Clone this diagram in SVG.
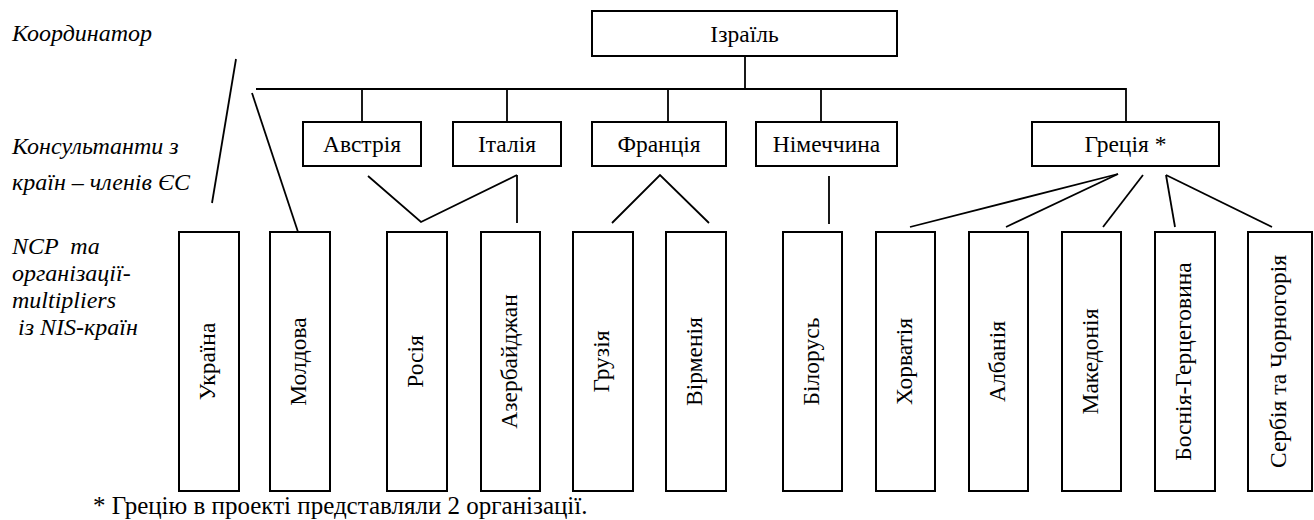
<svg xmlns="http://www.w3.org/2000/svg" width="1314" height="520" viewBox="0 0 1314 520">
<style>
.box{fill:#fff;stroke:#000;stroke-width:2}
.ln{stroke:#000;stroke-width:1.8;fill:none}
.t{font-size:23.5px;fill:#000;text-anchor:middle}
.lbl{font-size:24px;font-style:italic;fill:#000;white-space:pre}
.note{font-size:25px;fill:#000}
</style>
<rect width="1314" height="520" fill="#fff"/>
<g font-family="Liberation Serif, Times New Roman, Tinos, Noto Serif, DejaVu Serif, serif">
<g id="labels">
<text class="lbl" x="12" y="41">Координатор</text>
<text class="lbl" x="12" y="154">Консультанти з</text>
<text class="lbl" x="12" y="190">країн – членів ЄС</text>
<text class="lbl" x="12" y="254">NCP  та</text>
<text class="lbl" x="12" y="281">організації-</text>
<text class="lbl" x="12" y="308">multipliers</text>
<text class="lbl" x="12" y="335"> із NIS-країн</text>
</g>
<g id="connectors">
<line class="ln" x1="236" y1="59" x2="212" y2="203"/>
<line class="ln" x1="252" y1="93" x2="300" y2="238"/>
<line class="ln" x1="745" y1="56" x2="745" y2="89"/>
<polyline class="ln" points="256,89 1126,89 1126,122"/>
<line class="ln" x1="362" y1="89" x2="362" y2="122"/>
<line class="ln" x1="507" y1="89" x2="507" y2="122"/>
<line class="ln" x1="668" y1="89" x2="668" y2="122"/>
<line class="ln" x1="821" y1="89" x2="821" y2="122"/>
<polyline class="ln" points="368,176 421,222 517,175"/>
<line class="ln" x1="517" y1="175" x2="517" y2="223"/>
<polyline class="ln" points="612,223 660,175 709,223"/>
<line class="ln" x1="829" y1="176" x2="829" y2="224"/>
<line class="ln" x1="1118" y1="174" x2="910" y2="227"/>
<line class="ln" x1="1118" y1="174" x2="1006" y2="227"/>
<line class="ln" x1="1143" y1="175" x2="1103" y2="227"/>
<line class="ln" x1="1166" y1="175" x2="1175" y2="227"/>
<line class="ln" x1="1166" y1="175" x2="1272" y2="227"/>
</g>
<g id="n-israel"><rect class="box" x="592" y="11" width="305" height="45"/><text class="t" x="744.5" y="42">Ізраїль</text></g>
<g id="n-austria"><rect class="box" x="303" y="122" width="118" height="44"/><text class="t" x="362" y="152">Австрія</text></g>
<g id="n-italy"><rect class="box" x="453" y="122" width="108" height="44"/><text class="t" x="507" y="152">Італія</text></g>
<g id="n-france"><rect class="box" x="592" y="122" width="134" height="44"/><text class="t" x="659" y="152">Франція</text></g>
<g id="n-germany"><rect class="box" x="756" y="122" width="141" height="44"/><text class="t" x="826.5" y="152">Німеччина</text></g>
<g id="n-greece"><rect class="box" x="1032" y="122" width="187" height="44"/><text class="t" x="1125.5" y="152">Греція *</text></g>
<g id="n-ukraine"><rect class="box" x="179" y="232" width="60" height="259"/><text class="t" transform="translate(215,361.5) rotate(-90)">Україна</text></g>
<g id="n-moldova"><rect class="box" x="270" y="232" width="60" height="259"/><text class="t" transform="translate(306,361.5) rotate(-90)">Молдова</text></g>
<g id="n-russia"><rect class="box" x="387" y="232" width="60" height="259"/><text class="t" transform="translate(423,361.5) rotate(-90)">Росія</text></g>
<g id="n-azerbaijan"><rect class="box" x="481" y="232" width="59" height="259"/><text class="t" transform="translate(516.5,361.5) rotate(-90)">Азербайджан</text></g>
<g id="n-georgia"><rect class="box" x="573" y="232" width="60" height="259"/><text class="t" transform="translate(609,361.5) rotate(-90)">Грузія</text></g>
<g id="n-armenia"><rect class="box" x="666" y="232" width="60" height="259"/><text class="t" transform="translate(702,361.5) rotate(-90)">Вірменія</text></g>
<g id="n-belarus"><rect class="box" x="783" y="232" width="59" height="259"/><text class="t" transform="translate(818.5,361.5) rotate(-90)">Білорусь</text></g>
<g id="n-croatia"><rect class="box" x="876" y="232" width="59" height="259"/><text class="t" transform="translate(911.5,361.5) rotate(-90)">Хорватія</text></g>
<g id="n-albania"><rect class="box" x="969" y="232" width="59" height="259"/><text class="t" transform="translate(1004.5,361.5) rotate(-90)">Албанія</text></g>
<g id="n-macedonia"><rect class="box" x="1062" y="232" width="59" height="259"/><text class="t" transform="translate(1097.5,361.5) rotate(-90)">Македонія</text></g>
<g id="n-bosnia"><rect class="box" x="1155" y="232" width="60" height="259"/><text class="t" transform="translate(1191,361.5) rotate(-90)">Боснія-Герцеговина</text></g>
<g id="n-serbia"><rect class="box" x="1248" y="232" width="64" height="259"/><text class="t" transform="translate(1286,361.5) rotate(-90)">Сербія та Чорногорія</text></g>
<text class="note" x="93" y="514">* Грецію в проекті представляли 2 організації.</text>
</g>
</svg>
